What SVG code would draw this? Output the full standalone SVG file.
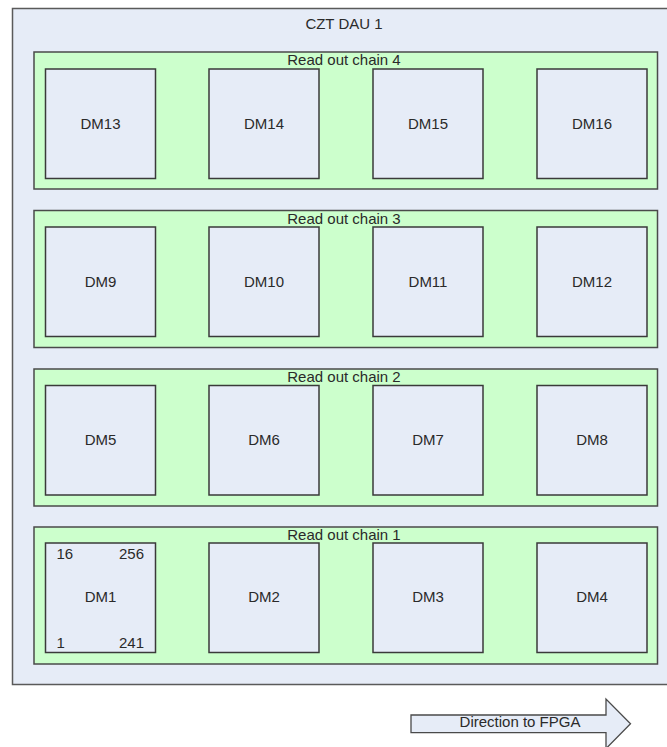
<svg xmlns="http://www.w3.org/2000/svg" width="667" height="747" viewBox="0 0 667 747">
<style>
text{font-family:"Liberation Sans",Arial,sans-serif;font-size:15px;fill:#2a2a2a}
.outer{fill:#e6ecf7;stroke:#5a5a5a;stroke-width:1.5}
.chain{fill:#ccffcc;stroke:#4a4a4a;stroke-width:1.5}
.dm{fill:#e6ecf7;stroke:#3a3a3a;stroke-width:1.5}
.mid{text-anchor:middle}
</style>
<g id="dau">
<rect class="outer" x="12.5" y="8.5" width="670" height="676"/>
<text class="mid" x="344" y="29">CZT DAU 1</text>
</g>
<g id="chain4">
<rect class="chain" x="34" y="52" width="623.5" height="137"/>
<text class="mid" x="344" y="65">Read out chain 4</text>
</g>
<g id="chain3">
<rect class="chain" x="34" y="210.5" width="623.5" height="137"/>
<text class="mid" x="344" y="223.5">Read out chain 3</text>
</g>
<g id="chain2">
<rect class="chain" x="34" y="369" width="623.5" height="137"/>
<text class="mid" x="344" y="382">Read out chain 2</text>
</g>
<g id="chain1">
<rect class="chain" x="34" y="527" width="623.5" height="137"/>
<text class="mid" x="344" y="540">Read out chain 1</text>
</g>
<g id="DM13"><rect class="dm" x="45.5" y="69" width="110" height="109.5"/><text class="mid" x="100.5" y="128.5">DM13</text></g>
<g id="DM14"><rect class="dm" x="209" y="69" width="110" height="109.5"/><text class="mid" x="264" y="128.5">DM14</text></g>
<g id="DM15"><rect class="dm" x="373" y="69" width="110" height="109.5"/><text class="mid" x="428" y="128.5">DM15</text></g>
<g id="DM16"><rect class="dm" x="537" y="69" width="110" height="109.5"/><text class="mid" x="592" y="128.5">DM16</text></g>
<g id="DM9"><rect class="dm" x="45.5" y="227" width="110" height="109.5"/><text class="mid" x="100.5" y="286.5">DM9</text></g>
<g id="DM10"><rect class="dm" x="209" y="227" width="110" height="109.5"/><text class="mid" x="264" y="286.5">DM10</text></g>
<g id="DM11"><rect class="dm" x="373" y="227" width="110" height="109.5"/><text class="mid" x="428" y="286.5">DM11</text></g>
<g id="DM12"><rect class="dm" x="537" y="227" width="110" height="109.5"/><text class="mid" x="592" y="286.5">DM12</text></g>
<g id="DM5"><rect class="dm" x="45.5" y="385.5" width="110" height="109.5"/><text class="mid" x="100.5" y="445">DM5</text></g>
<g id="DM6"><rect class="dm" x="209" y="385.5" width="110" height="109.5"/><text class="mid" x="264" y="445">DM6</text></g>
<g id="DM7"><rect class="dm" x="373" y="385.5" width="110" height="109.5"/><text class="mid" x="428" y="445">DM7</text></g>
<g id="DM8"><rect class="dm" x="537" y="385.5" width="110" height="109.5"/><text class="mid" x="592" y="445">DM8</text></g>
<g id="DM1"><rect class="dm" x="45.5" y="543" width="110" height="109.5"/><text class="mid" x="100.5" y="601.5">DM1</text>
<text x="56.5" y="559">16</text><text x="144" y="559" text-anchor="end">256</text>
<text x="56.5" y="647.5">1</text><text x="144" y="647.5" text-anchor="end">241</text></g>
<g id="DM2"><rect class="dm" x="209" y="543" width="110" height="109.5"/><text class="mid" x="264" y="602">DM2</text></g>
<g id="DM3"><rect class="dm" x="373" y="543" width="110" height="109.5"/><text class="mid" x="428" y="602">DM3</text></g>
<g id="DM4"><rect class="dm" x="537" y="543" width="110" height="109.5"/><text class="mid" x="592" y="602">DM4</text></g>
<g id="connectors">
<g id="fpga_arrow">
<path d="M411 715 H606 V699 L630.5 723.8 L606 748.6 V732.7 H411 Z" fill="#e6ecf7" stroke="#4a4a4a" stroke-width="1.3"/>
<text class="mid" x="520" y="727">Direction to FPGA</text>
</g>
</g>
</svg>
